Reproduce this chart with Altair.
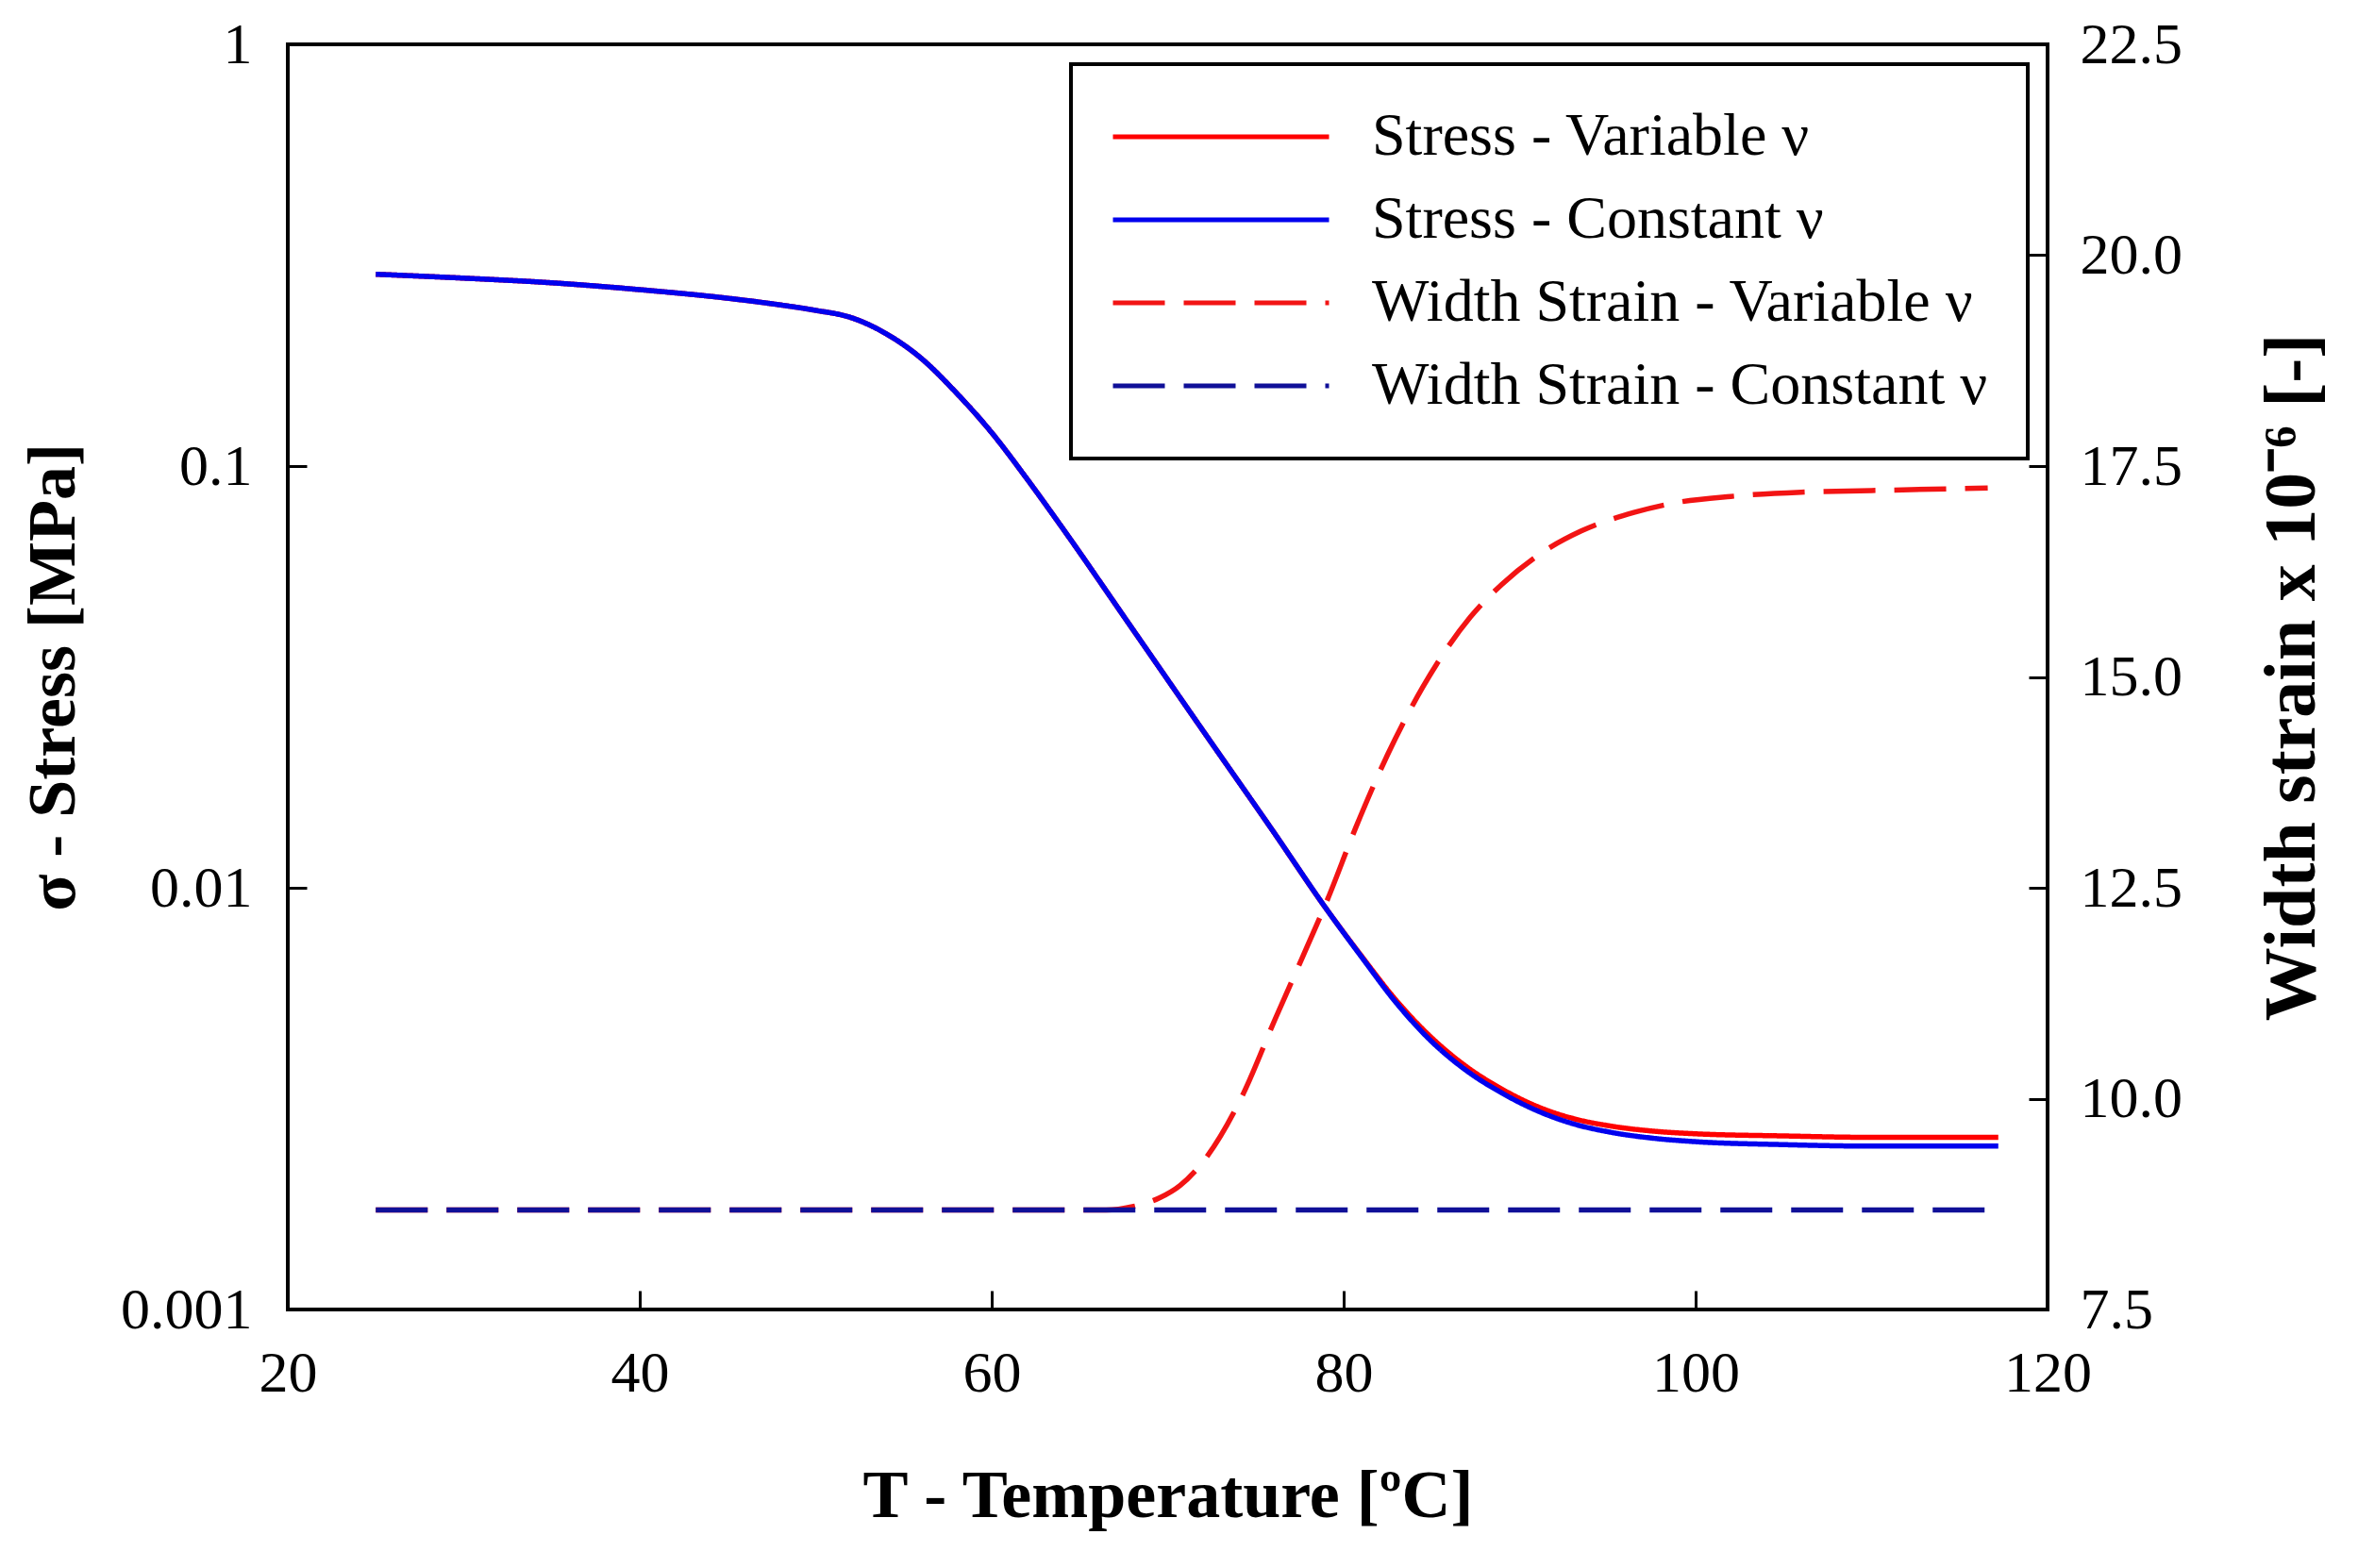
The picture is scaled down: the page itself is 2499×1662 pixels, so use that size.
import altair as alt
import pandas as pd

# ---- data ----
T_STRESS = [25, 30, 35, 40, 45, 48, 50, 52, 54, 56, 58, 60, 62, 64, 68, 72, 76, 79,
            81, 83, 85, 87, 89, 91, 93, 95, 97.5, 100, 105, 110, 117.2]
STRESS_VAR = [0.285, 0.279, 0.272, 0.262, 0.250, 0.241, 0.234, 0.225, 0.206, 0.180, 0.149, 0.120,
              0.0933, 0.0715, 0.0411, 0.0236, 0.0136, 0.00893,
              0.00690, 0.00540, 0.00441, 0.00376, 0.00333, 0.00303, 0.00284, 0.00273,
              0.00265, 0.00261, 0.00258, 0.00256, 0.00256]
STRESS_CONST = [0.285, 0.279, 0.272, 0.262, 0.250, 0.241, 0.234, 0.225, 0.206, 0.180, 0.149, 0.120,
                0.0933, 0.0715, 0.0411, 0.0236, 0.0136, 0.00893,
                0.00687, 0.00533, 0.00432, 0.00368, 0.00326, 0.00296, 0.00276, 0.00264,
                0.00255, 0.00250, 0.00246, 0.00244, 0.00244]

T_STRAIN_VAR = [25, 66.5, 68, 69.5, 70.7, 72.15, 74.3, 76.1, 77.9, 79.1, 80.7, 82.5, 84.5, 87.2,
                89, 91.1, 93.5, 96.5, 99, 102, 106, 110, 116.6]
STRAIN_VAR = [8.68, 8.68, 8.72, 8.82, 8.97, 9.29, 10.06, 10.94, 11.79, 12.37, 13.22, 14.08, 14.88,
              15.71, 16.10, 16.45, 16.73, 16.95, 17.07, 17.14, 17.19, 17.21, 17.24]
T_STRAIN_CONST = [25, 116.6]
STRAIN_CONST = [8.68, 8.68]

SERIES = ["Stress - Variable ν", "Stress - Constant ν",
          "Width Strain - Variable ν", "Width Strain - Constant ν"]
COLORS = ["#FF0000", "#0000EE", "#F21414", "#101098"]
DASHES = [[1, 0], [1, 0], [55, 20], [55, 20]]

X_TICKS = [20, 40, 60, 80, 100, 120]
Y_LEFT_TICKS = [0.001, 0.01, 0.1, 1]
Y_RIGHT_TICKS = [7.5, 10.0, 12.5, 15.0, 17.5, 20.0, 22.5]

FONT = "Liberation Serif"


def frame(ts, vs, name):
    return pd.DataFrame({"T": ts, "value": vs, "series": name})


d_sv = frame(T_STRESS, STRESS_VAR, SERIES[0])
d_sc = frame(T_STRESS, STRESS_CONST, SERIES[1])
d_wv = frame(T_STRAIN_VAR, STRAIN_VAR, SERIES[2])
d_wc = frame(T_STRAIN_CONST, STRAIN_CONST, SERIES[3])

legend = alt.Legend(
    title=None, orient="none", legendX=830, legendY=21,
    strokeColor="black", fillColor="white", padding=42,
    symbolType="stroke", symbolSize=52441, symbolStrokeWidth=5,
    clipHeight=70, rowPadding=18, labelOffset=43,
    labelFont=FONT, labelFontSize=64, labelLimit=0, labelColor="black",
)

color = alt.Color("series:N", scale=alt.Scale(domain=SERIES, range=COLORS), legend=legend)
dash = alt.StrokeDash("series:N", scale=alt.Scale(domain=SERIES, range=DASHES), legend=legend)

x_enc = alt.X(
    "T:Q",
    scale=alt.Scale(domain=[20, 120], nice=False, zero=False),
    axis=alt.Axis(values=X_TICKS, title="T - Temperature [ºC]", offset=-20, tickSize=20,
                  tickWidth=3, tickColor="black", domain=False, grid=False,
                  labelPadding=37, labelFlush=False, titlePadding=64),
)

y_left = alt.Y(
    "value:Q",
    scale=alt.Scale(type="log", domain=[0.001, 1], nice=False),
    axis=alt.Axis(values=Y_LEFT_TICKS, format="~g", orient="left", offset=-20, tickSize=20,
                  tickWidth=3, tickColor="black", domain=False, grid=False,
                  labelPadding=38, labelFlush=False, title="σ - Stress [MPa]", titlePadding=34),
)

y_right = alt.Y(
    "value:Q",
    scale=alt.Scale(domain=[7.5, 22.5], nice=False, zero=False),
    axis=alt.Axis(values=Y_RIGHT_TICKS, format=".1f", orient="right", offset=-20, tickSize=20,
                  tickWidth=3, tickColor="black", domain=False, grid=False,
                  labelPadding=34, labelFlush=False, title="Width strain x 10⁻⁶ [-]",
                  titleAngle=270, titleBaseline="top", titlePadding=78, titleFontSize=78),
)


def line(df, y):
    return alt.Chart(df).mark_line(strokeWidth=5.5, interpolate="monotone").encode(
        x=x_enc, y=y, color=color, strokeDash=dash)


stress = alt.layer(line(d_sv, y_left), line(d_sc, y_left))
strain = alt.layer(line(d_wv, y_right), line(d_wc, y_right))

chart = (
    alt.layer(stress, strain)
    .resolve_scale(y="independent")
    .properties(width=1865, height=1341, padding={"left": 12, "top": 8, "right": 0, "bottom": 5})
    .configure(font=FONT)
    .configure_view(stroke="black", strokeWidth=4)
    .configure_legend(strokeWidth=4)
    .configure_axis(labelFont=FONT, labelFontSize=62, labelColor="black",
                    titleFont=FONT, titleFontSize=72, titleFontWeight="bold", titleColor="black")
)

chart.save("out.html", embed_options={"renderer": "svg", "actions": False})
